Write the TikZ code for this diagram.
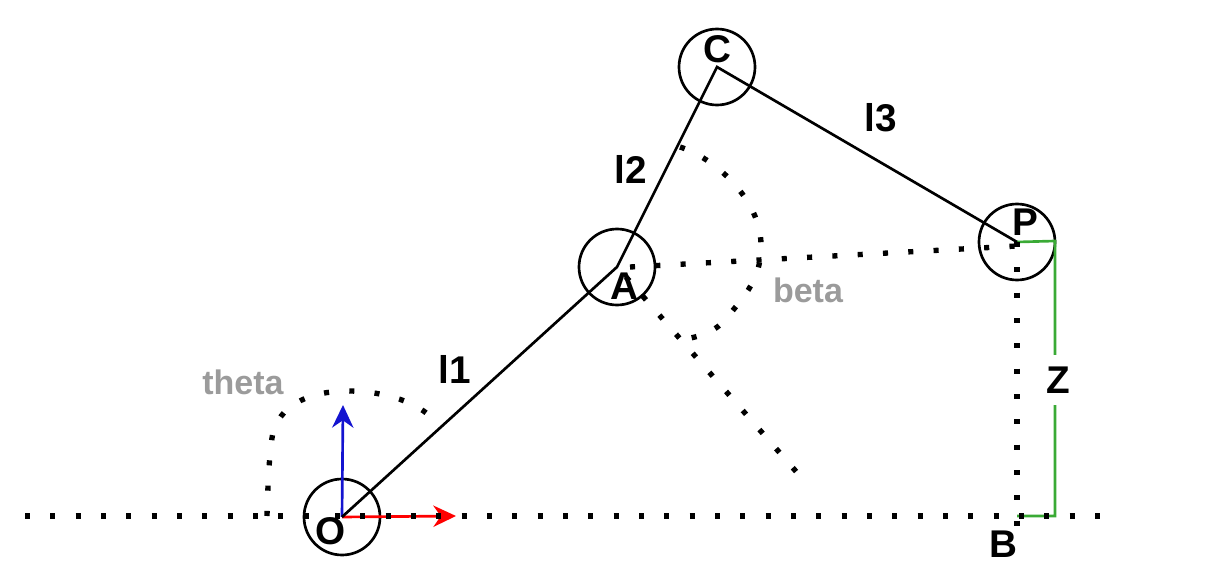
\documentclass[tikz,border=0pt]{standalone}
\usepackage{fontspec}
\setmainfont{Liberation Sans}
\usetikzlibrary{arrows.meta}
\definecolor{armgreen}{RGB}{58,170,53}
\definecolor{armblue}{RGB}{20,20,208}
\definecolor{armgray}{RGB}{155,155,155}
\begin{document}
\begin{tikzpicture}[x=0.75pt, y=-0.75pt,
	joint/.style={circle,draw=black,line width=2pt,minimum size=57pt,inner sep=0pt},
	link/.style={line width=2pt,black},
	dots/.style={line width=4pt,dash pattern=on 3.8pt off 15.2pt,black},
	axis/.style={line width=2pt,-{Stealth[length=17pt,width=16pt]}},
	lbl/.style={font=\fontsize{29}{29}\selectfont\bfseries,inner sep=0pt},
	anglelbl/.style={font=\fontsize{25.5}{26}\selectfont\bfseries,text=armgray,inner sep=0pt}]
	\useasboundingbox (0,0) rectangle (1222,585);

	\node[joint] (O) at (342,517) {};
	\node[joint] (A) at (617,267) {};
	\node[joint] (C) at (717,67) {};
	\node[joint] (P) at (1017,242) {};

	\coordinate (xstart) at (25,516);
	\coordinate (xmid) at (312,516);
	\coordinate (xnext) at (335,516);
	\coordinate (xend) at (1101,516);
	\coordinate (B) at (1017,516);
	\coordinate (Bend) at (1017,528);
	\coordinate (Aright) at (630,267);
	\coordinate (Pleft) at (1017,246);
	\coordinate (Adown) at (626,277);
	\coordinate (Aend) at (800,476);
	\coordinate (xtip) at (456,516);
	\coordinate (ytip) at (343,405);
	\coordinate (Pz) at (1055,241);
	\coordinate (Bz) at (1055,516);

	\draw[axis, color=red] (O.center) -- (xtip);
	\draw[axis, color=armblue] (O.center) -- (ytip);

	\draw[link, color=armgreen] (B) -- (Bz) -- (Pz) -- (P.center);

	\draw[dots] (xstart) -- (xmid);
	\draw[dots] (xnext) -- (xend);
	\draw[dots] (P.center) -- (Bend);
	\draw[dots] (Aright) -- (Pleft);
	\draw[dots] (Adown) -- (Aend);
	\draw[dots] (267,516) .. controls (268,480) and (269,460) .. (272,438) .. controls (277,405) and (310,391) .. (348,391) .. controls (380,391) and (413,400) .. (431,417);
	\draw[dots] (680,147) .. controls (715,158) and (761,200) .. (761,245) .. controls (761,275) and (750,290) .. (729,315) .. controls (717,332) and (700,337) .. (679,340);

	\draw[link] (O.center) -- (A.center) -- (C.center) -- (P.center);

	\node[lbl] (Olbl) at (331,531) {O};
	\node[lbl] (Albl) at (624,286) {A};
	\node[lbl] (Clbl) at (717,49) {C};
	\node[lbl] (Plbl) at (1025,222) {P};
	\node[lbl] (Blbl) at (1003,544) {B};
	\node[lbl] (l1) at (455,369) {l1};
	\node[lbl] (l2) at (631,169) {l2};
	\node[lbl] (l3) at (881,118) {l3};
	\node[lbl, fill=white, inner ysep=9pt, inner xsep=2pt] (Z) at (1058,380) {Z};
	\node[anglelbl] (theta) at (243,382) {theta};
	\node[anglelbl] (beta) at (808,290) {beta};
\end{tikzpicture}
\end{document}
